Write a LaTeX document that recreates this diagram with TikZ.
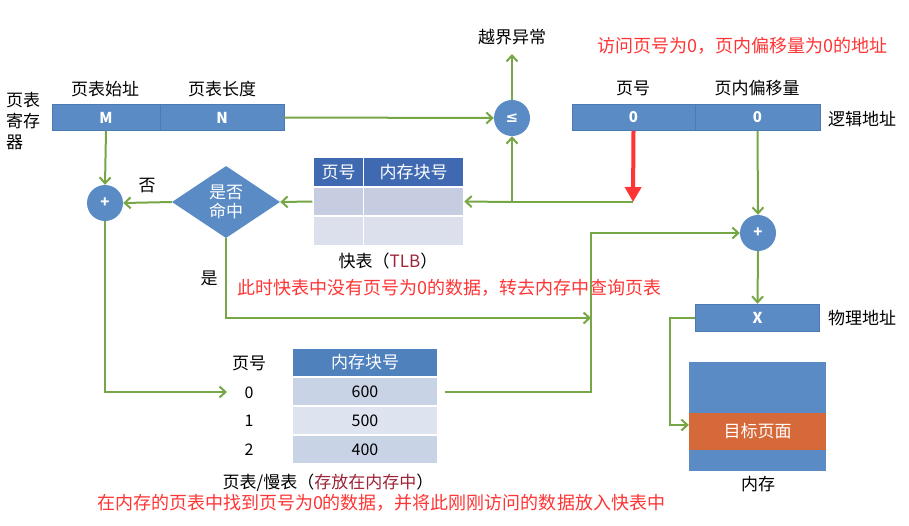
\documentclass[tikz,border=0pt]{standalone}
\usepackage{fontspec}
\setmainfont{Noto Sans CJK SC}
\newfontfamily\dejavu{DejaVu Sans}
\usetikzlibrary{shapes.geometric,arrows.meta}
\definecolor{barblue}{HTML}{5A8BC5}
\definecolor{barline}{HTML}{4C7AB3}
\definecolor{tlbhead}{HTML}{3F69B0}
\definecolor{pthead}{HTML}{4F81BD}
\definecolor{rowA}{HTML}{C6CDE1}
\definecolor{rowB}{HTML}{DCE0EC}
\definecolor{prowA}{HTML}{C8D3E6}
\definecolor{prowB}{HTML}{DDE4F0}
\definecolor{lgreen}{HTML}{77A646}
\definecolor{redtxt}{HTML}{FF3535}
\definecolor{darkred}{HTML}{9E2438}
\definecolor{orangeband}{HTML}{D5693A}
\tikzset{
  cellbox/.style={draw=barline, line width=0.5pt, fill=barblue, inner sep=0pt, text=white,
    font=\fontsize{15}{15}\selectfont\bfseries},
  tcell/.style={draw=white, line width=1.5pt, inner sep=0pt, font=\fontsize{16}{16}\selectfont},
  hcell/.style={tcell, text=white, font=\fontsize{17}{17}\selectfont},
  opcircle/.style={circle, fill=barblue, minimum size=36pt, inner sep=0pt, text=white,
    font=\fontsize{15}{15}\selectfont\bfseries},
  lbl/.style={inner sep=0pt, font=\fontsize{17}{17}\selectfont},
  note/.style={inner sep=0pt, text=redtxt, font=\fontsize{18}{18}\selectfont},
  garrow/.style={draw=lgreen, line width=2pt, -{Straight Barb[length=6pt,width=11pt]}},
  rarrow/.style={draw=redtxt, line width=4pt, -{Triangle[length=15pt,width=16pt]}}
}
\begin{document}
\begin{tikzpicture}[x=1pt,y=-1pt]
\useasboundingbox[fill=white] (0,0) rectangle (909,525);

% page table register
\node[cellbox, minimum width=108pt, minimum height=26pt] (M) at (106,117.5) {M};
\node[cellbox, minimum width=124pt, minimum height=26pt] (N) at (222,117.5) {N};
\node[lbl] (lstart) at (105,89) {页表始址};
\node[lbl] (llen) at (222,89) {页表长度};
\node[lbl, anchor=north west, align=left, font=\fontsize{17}{21}\selectfont] (reg) at (6,92) {页表\\寄存\\器};

% logical address
\node[cellbox, minimum width=123pt, minimum height=26pt] (pg0) at (633.5,117.5) {0};
\node[cellbox, minimum width=125pt, minimum height=26pt] (off0) at (757.5,117.5) {0};
\node[lbl] (lpg) at (633,88) {页号};
\node[lbl] (loff) at (757,88) {页内偏移量};
\node[lbl] (llog) at (862,119) {逻辑地址};
\node[note] (n1) at (742,46) {访问页号为0，页内偏移量为0的地址};

% comparator
\node[opcircle] (le) at (512,118) {\dejavu ≤};
\node[lbl] (oob) at (512,37) {越界异常};
\coordinate (oobtip) at (512,54);

% TLB
\node[hcell, fill=tlbhead, minimum width=51pt, minimum height=29pt] (t00) at (338.5,172) {页号};
\node[hcell, fill=tlbhead, minimum width=100pt, minimum height=29pt] (t01) at (413.5,172) {内存块号};
\node[tcell, fill=rowA, minimum width=51pt, minimum height=29pt] (t10) at (338.5,201.5) {};
\node[tcell, fill=rowA, minimum width=100pt, minimum height=29pt] (t11) at (413.5,201.5) {};
\node[tcell, fill=rowB, minimum width=51pt, minimum height=29pt] (t20) at (338.5,231) {};
\node[tcell, fill=rowB, minimum width=100pt, minimum height=29pt] (t21) at (413.5,231) {};
\node[lbl] (ltlb) at (388,261) {快表（{\color{darkred}TLB}）};

% hit diamond
\node[diamond, fill=barblue, minimum width=108pt, minimum height=72pt, inner sep=0pt] (hit) at (226,202) {};
\node[lbl, text=white, align=center, font=\fontsize{17}{19.5}\selectfont] (hittxt) at (226,202) {是否\\命中};
\node[opcircle] (plus1) at (105,203) {+};
\node[lbl] (lno) at (147,186) {否};
\node[lbl] (lyes) at (209,278) {是};

% red notes
\node[note] (n2) at (449.5,288) {此时快表中没有页号为0的数据，转去内存中查询页表};
\node[note] (n3) at (381,503) {在内存的页表中找到页号为0的数据，并将此刚刚访问的数据放入快表中};

% page table
\node[lbl] (pth) at (249,363) {页号};
\node[lbl, font=\fontsize{16}{16}\selectfont] (pn0) at (249,393) {0};
\node[lbl, font=\fontsize{16}{16}\selectfont] (pn1) at (249,421) {1};
\node[lbl, font=\fontsize{16}{16}\selectfont] (pn2) at (249,450) {2};
\node[hcell, fill=pthead, minimum width=146pt, minimum height=29pt] (ph) at (365,362.5) {内存块号};
\node[tcell, fill=prowA, minimum width=146pt, minimum height=29pt] (pr0) at (365,391.5) {600};
\node[tcell, fill=prowB, minimum width=146pt, minimum height=29pt] (pr1) at (365,420.5) {500};
\node[tcell, fill=prowA, minimum width=146pt, minimum height=29pt] (pr2) at (365,449.5) {400};
\node[lbl] (lpt) at (328,483) {页表/慢表（{\color{darkred}存放在内存中}）};

% right side
\node[opcircle] (plus2) at (758,233) {+};
\node[cellbox, minimum width=124pt, minimum height=27pt] (X) at (757.5,317.5) {X};
\node[lbl] (lphys) at (862,318) {物理地址};
\node[draw=none, fill=barblue, minimum width=137pt, minimum height=109pt, inner sep=0pt] (mem) at (757.5,416) {};
\node[fill=orangeband, minimum width=137pt, minimum height=37pt, inner sep=0pt, text=white,
  font=\fontsize{17}{17}\selectfont] (target) at (757.5,431) {目标页面};
\node[lbl] (lmem) at (758,484) {内存};

% coordinates
\coordinate (hitpt) at (633,202);
\coordinate (branch) at (512,202);
\coordinate (join) at (591,318);
\coordinate (pt0in) at (227,392);

% connectors
\draw[garrow] (N.east) -- (le.west);
\draw[garrow] (le.north) -- (oobtip);
\draw[garrow, -] (hitpt) -- (branch);
\draw[garrow] (branch) -- (t11.east);
\draw[garrow] (branch) -- (le.south);
\draw[garrow] (t10.west) -- (hit.east);
\draw[garrow] (hit.west) -- (plus1.east);
\draw[garrow] (M.south) -- (plus1.north);
\draw[garrow] (hit.south) |- (join);
\draw[garrow] (plus1.south) |- (pt0in);
\draw[garrow] ([xshift=6pt]pr0.east) -- (pr0.east -| join) -- (join |- plus2) -- (plus2.west);
\draw[garrow] (off0.south) -- (plus2.north);
\draw[garrow] (plus2.south) -- (X.north);
\draw[garrow] (X.west) -- ++(-25,0) |- ([yshift=6pt]target.west);
\draw[rarrow] (pg0.south) -- (hitpt);
\end{tikzpicture}
\end{document}
